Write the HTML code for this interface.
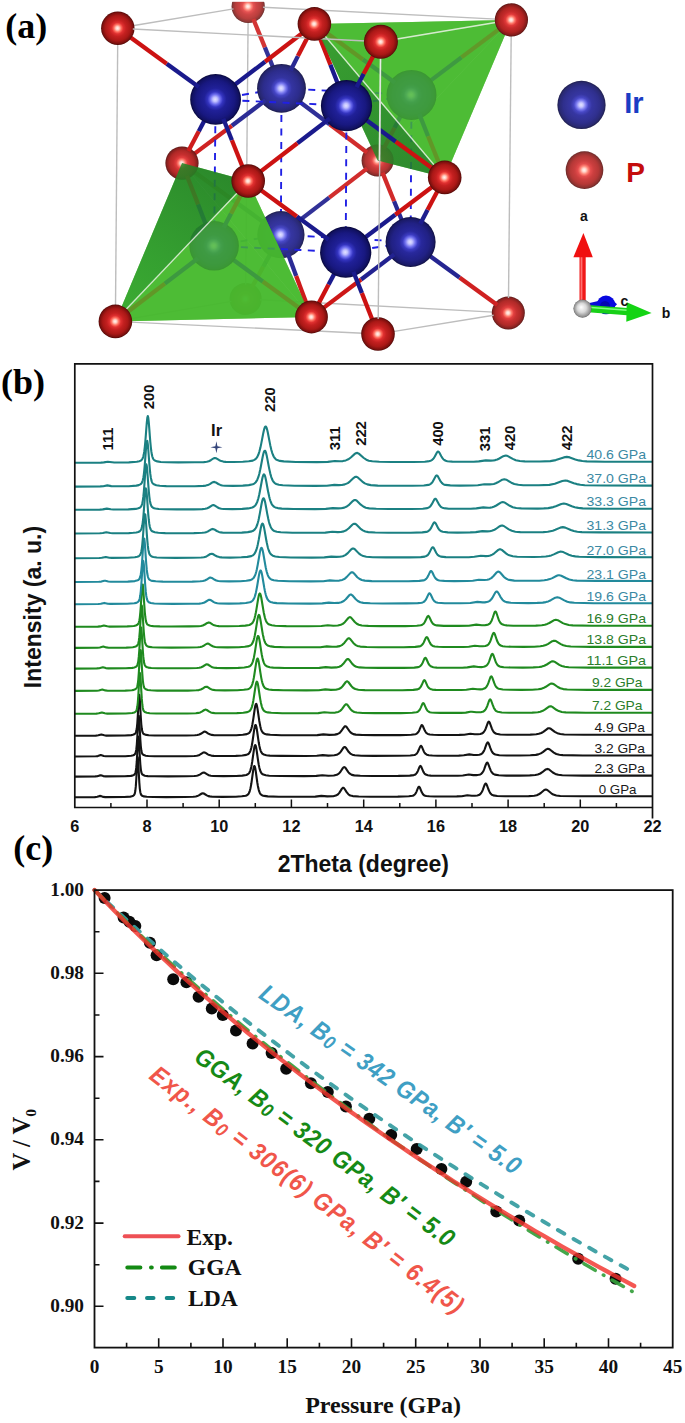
<!DOCTYPE html>
<html><head><meta charset="utf-8"><title>Figure</title>
<style>
html,body{margin:0;padding:0;background:#fff;}
body{width:685px;height:1423px;overflow:hidden;font-family:"Liberation Sans",sans-serif;}
svg{display:block;}
text{font-family:"Liberation Sans",sans-serif;}
.ser{font-family:"Liberation Serif",serif;font-weight:bold;}
.sb{font-family:"Liberation Sans",sans-serif;font-weight:bold;}
</style></head><body>
<svg width="685" height="1423" viewBox="0 0 685 1423">
<rect x="0" y="0" width="685" height="1423" fill="#ffffff"/>
<g id="pa">
<defs>
<radialGradient id="gIr" cx="0.5" cy="0.5" r="0.5" fx="0.49" fy="0.5">
<stop offset="0" stop-color="#e2e2ff"/><stop offset="0.09" stop-color="#c0c0ff"/><stop offset="0.20" stop-color="#6c6cee"/>
<stop offset="0.30" stop-color="#3434c0"/><stop offset="0.44" stop-color="#202098"/><stop offset="0.75" stop-color="#181880"/><stop offset="0.92" stop-color="#111162"/><stop offset="1" stop-color="#08083a"/>
</radialGradient>
<radialGradient id="gP" cx="0.5" cy="0.5" r="0.5" fx="0.49" fy="0.5">
<stop offset="0" stop-color="#fff6f0"/><stop offset="0.10" stop-color="#ffd0c4"/><stop offset="0.22" stop-color="#ff7060"/>
<stop offset="0.34" stop-color="#e03030"/><stop offset="0.5" stop-color="#c42020"/><stop offset="0.75" stop-color="#aa1816"/><stop offset="0.92" stop-color="#7c100e"/><stop offset="1" stop-color="#500806"/>
</radialGradient>
<linearGradient id="gDark1" gradientUnits="userSpaceOnUse" x1="330" y1="40" x2="440" y2="175">
<stop offset="0" stop-color="#2f962a"/><stop offset="1" stop-color="#237f26"/></linearGradient>
<linearGradient id="gDark2" gradientUnits="userSpaceOnUse" x1="215" y1="170" x2="120" y2="320">
<stop offset="0" stop-color="#218024"/><stop offset="0.6" stop-color="#2c9a2a"/><stop offset="1" stop-color="#35a82c"/></linearGradient>
<radialGradient id="gW" cx="0.5" cy="0.5" r="0.5" fx="0.42" fy="0.42">
<stop offset="0" stop-color="#ffffff"/><stop offset="0.5" stop-color="#d8d8d8"/><stop offset="0.9" stop-color="#909090"/><stop offset="1" stop-color="#606060"/>
</radialGradient>
</defs>
<text class="ser" x="5.3" y="38.3" font-size="36" fill="#000">(a)</text>
<circle cx="245.6" cy="298.9" r="16.0" fill="url(#gP)"/><circle cx="245.6" cy="298.9" r="16.0" fill="#fff" opacity="0.19"/>
<line x1="245.7" y1="284.5" x2="248.1" y2="21.3" stroke="#bdbdbd" stroke-width="1.4"/>
<circle cx="248.2" cy="6.4" r="16.6" fill="url(#gP)"/><circle cx="248.2" cy="6.4" r="16.6" fill="#fff" opacity="0.17"/>
<line x1="263.2" y1="266.8" x2="251.9" y2="287.4" stroke="#d43939" stroke-width="4.3"/>
<line x1="264.9" y1="47.4" x2="253.3" y2="19.0" stroke="#d33535" stroke-width="4.3"/>
<line x1="260.0" y1="299.7" x2="493.5" y2="312.1" stroke="#bdbdbd" stroke-width="1.4"/>
<polygon points="511.4,19.9 444.7,177.4 377.6,160.4" fill="#46b92d" fill-opacity="0.80"/>
<polygon points="511.4,19.9 314.4,23.9 377.6,160.4" fill="#46b92d" fill-opacity="0.80"/>
<circle cx="377.6" cy="160.4" r="16.0" fill="url(#gP)"/><circle cx="377.6" cy="160.4" r="16.0" fill="#fff" opacity="0.12"/>
<line x1="271.6" y1="251.7" x2="263.2" y2="266.8" stroke="#353599" stroke-width="4.3"/>
<line x1="263.1" y1="7.2" x2="496.5" y2="19.1" stroke="#bdbdbd" stroke-width="1.4"/>
<line x1="329.2" y1="197.6" x2="367.2" y2="168.4" stroke="#d12d2d" stroke-width="4.3"/>
<line x1="329.6" y1="124.3" x2="367.1" y2="152.5" stroke="#d12c2c" stroke-width="4.3"/>
<line x1="274.0" y1="69.8" x2="264.9" y2="47.4" stroke="#323298" stroke-width="4.3"/>
<line x1="296.2" y1="222.9" x2="329.2" y2="197.6" stroke="#313197" stroke-width="4.3"/>
<line x1="394.1" y1="201.2" x2="382.5" y2="172.6" stroke="#d12a2a" stroke-width="4.3"/>
<line x1="281.5" y1="88.3" x2="280.9" y2="234.7" stroke="#2020e4" stroke-width="1.9" stroke-dasharray="7 6.4"/>
<line x1="214.1" y1="245.8" x2="280.9" y2="234.7" stroke="#2020e4" stroke-width="1.9" stroke-dasharray="7 6.4"/>
<line x1="280.9" y1="234.7" x2="410.6" y2="242.0" stroke="#2020e4" stroke-width="1.9" stroke-dasharray="7 6.4"/>
<line x1="394.6" y1="127.7" x2="383.6" y2="148.7" stroke="#d12929" stroke-width="4.3"/>
<circle cx="280.9" cy="234.7" r="23.6" fill="url(#gIr)"/><circle cx="280.9" cy="234.7" r="23.6" fill="#fff" opacity="0.10"/>
<line x1="297.5" y1="100.3" x2="329.6" y2="124.3" stroke="#303097" stroke-width="4.3"/>
<line x1="215.6" y1="99.4" x2="281.5" y2="88.3" stroke="#2020e4" stroke-width="1.9" stroke-dasharray="7 6.4"/>
<line x1="281.5" y1="88.3" x2="411.5" y2="94.9" stroke="#2020e4" stroke-width="1.9" stroke-dasharray="7 6.4"/>
<line x1="265.2" y1="223.4" x2="231.4" y2="198.9" stroke="#2e2e96" stroke-width="4.3"/>
<circle cx="281.5" cy="88.3" r="24.4" fill="url(#gIr)"/><circle cx="281.5" cy="88.3" r="24.4" fill="#fff" opacity="0.09"/>
<line x1="265.5" y1="100.3" x2="231.8" y2="125.7" stroke="#2c2c95" stroke-width="4.3"/>
<line x1="130.3" y1="318.8" x2="231.4" y2="301.4" stroke="#bdbdbd" stroke-width="1.4"/>
<line x1="287.6" y1="252.8" x2="296.2" y2="275.9" stroke="#2b2b95" stroke-width="4.3"/>
<circle cx="508.3" cy="312.9" r="16.5" fill="url(#gP)"/><circle cx="508.3" cy="312.9" r="16.5" fill="#fff" opacity="0.08"/>
<line x1="231.4" y1="198.9" x2="193.0" y2="171.1" stroke="#cf2323" stroke-width="4.3"/>
<line x1="231.8" y1="125.7" x2="192.9" y2="154.9" stroke="#cf2222" stroke-width="4.3"/>
<line x1="508.5" y1="298.1" x2="511.2" y2="34.8" stroke="#bdbdbd" stroke-width="1.4"/>
<polygon points="311.5,317.0 182.0,163.1 248.2,181.0" fill="#46b92d" fill-opacity="0.80"/>
<polygon points="115.4,321.4 311.5,317.0 182.0,163.1" fill="#46b92d" fill-opacity="0.80"/>
<line x1="459.5" y1="277.4" x2="497.3" y2="305.0" stroke="#cf2121" stroke-width="4.3"/>
<line x1="290.6" y1="70.5" x2="297.9" y2="56.1" stroke="#292993" stroke-width="4.3"/>
<circle cx="182.0" cy="163.1" r="16.6" fill="url(#gP)"/><circle cx="182.0" cy="163.1" r="16.6" fill="#fff" opacity="0.07"/>
<line x1="402.9" y1="223.0" x2="394.1" y2="201.2" stroke="#282893" stroke-width="4.3"/>
<line x1="132.6" y1="25.7" x2="233.5" y2="8.9" stroke="#bdbdbd" stroke-width="1.4"/>
<line x1="402.1" y1="113.1" x2="394.6" y2="127.7" stroke="#262692" stroke-width="4.3"/>
<line x1="427.2" y1="254.0" x2="459.5" y2="277.4" stroke="#252591" stroke-width="4.3"/>
<line x1="461.4" y1="57.4" x2="500.5" y2="28.1" stroke="#ce1d1d" stroke-width="4.3"/>
<line x1="198.1" y1="204.4" x2="186.9" y2="175.8" stroke="#ce1c1c" stroke-width="4.3"/>
<line x1="411.5" y1="94.9" x2="410.6" y2="242.0" stroke="#2020e4" stroke-width="1.9" stroke-dasharray="7 6.4"/>
<line x1="345.7" y1="252.2" x2="410.6" y2="242.0" stroke="#2020e4" stroke-width="1.9" stroke-dasharray="7 6.4"/>
<line x1="198.8" y1="131.2" x2="188.4" y2="151.1" stroke="#ce1c1c" stroke-width="4.3"/>
<circle cx="410.6" cy="242.0" r="25.0" fill="url(#gIr)"/><circle cx="410.6" cy="242.0" r="25.0" fill="#fff" opacity="0.04"/>
<line x1="296.2" y1="275.9" x2="306.8" y2="304.4" stroke="#cd1b1b" stroke-width="4.3"/>
<line x1="427.9" y1="82.6" x2="461.4" y2="57.4" stroke="#222290" stroke-width="4.3"/>
<line x1="394.3" y1="254.4" x2="361.1" y2="279.5" stroke="#222290" stroke-width="4.3"/>
<line x1="346.5" y1="105.7" x2="411.5" y2="94.9" stroke="#2020e4" stroke-width="1.9" stroke-dasharray="7 6.4"/>
<circle cx="411.5" cy="94.9" r="25.0" fill="url(#gIr)"/><circle cx="411.5" cy="94.9" r="25.0" fill="#fff" opacity="0.03"/>
<line x1="361.1" y1="279.5" x2="322.2" y2="308.9" stroke="#cd1717" stroke-width="4.3"/>
<line x1="395.0" y1="82.8" x2="362.9" y2="59.4" stroke="#1f1f8e" stroke-width="4.3"/>
<line x1="297.9" y1="56.1" x2="308.1" y2="36.2" stroke="#cd1616" stroke-width="4.3"/>
<line x1="420.2" y1="223.9" x2="427.6" y2="209.7" stroke="#1e1e8e" stroke-width="4.3"/>
<line x1="419.2" y1="113.9" x2="428.1" y2="136.2" stroke="#1c1c8d" stroke-width="4.3"/>
<line x1="262.8" y1="281.4" x2="300.6" y2="309.1" stroke="#cc1414" stroke-width="4.3"/>
<line x1="362.9" y1="59.4" x2="325.5" y2="32.0" stroke="#cc1313" stroke-width="4.3"/>
<line x1="206.7" y1="226.8" x2="198.1" y2="204.4" stroke="#1b1b8c" stroke-width="4.3"/>
<line x1="205.9" y1="117.8" x2="198.8" y2="131.2" stroke="#1a1a8c" stroke-width="4.3"/>
<line x1="328.6" y1="284.6" x2="317.8" y2="305.1" stroke="#cc1212" stroke-width="4.3"/>
<line x1="230.5" y1="257.8" x2="262.8" y2="281.4" stroke="#1a1a8c" stroke-width="4.3"/>
<line x1="265.0" y1="61.7" x2="303.5" y2="32.3" stroke="#cc1212" stroke-width="4.3"/>
<line x1="215.6" y1="99.4" x2="214.1" y2="245.8" stroke="#2020e4" stroke-width="1.9" stroke-dasharray="7 6.4"/>
<line x1="214.1" y1="245.8" x2="345.7" y2="252.2" stroke="#2020e4" stroke-width="1.9" stroke-dasharray="7 6.4"/>
<circle cx="214.1" cy="245.8" r="24.8" fill="url(#gIr)"/>
<line x1="232.1" y1="86.8" x2="265.0" y2="61.7" stroke="#1a1a8c" stroke-width="4.3"/>
<line x1="198.0" y1="258.2" x2="164.8" y2="283.6" stroke="#1a1a8c" stroke-width="4.3"/>
<line x1="330.4" y1="64.8" x2="319.4" y2="36.7" stroke="#cc1212" stroke-width="4.3"/>
<line x1="215.6" y1="99.4" x2="346.5" y2="105.7" stroke="#2020e4" stroke-width="1.9" stroke-dasharray="7 6.4"/>
<circle cx="215.6" cy="99.4" r="25.4" fill="url(#gIr)"/>
<line x1="427.6" y1="209.7" x2="438.3" y2="189.6" stroke="#cc1212" stroke-width="4.3"/>
<line x1="428.1" y1="136.2" x2="439.6" y2="164.6" stroke="#cc1212" stroke-width="4.3"/>
<line x1="164.8" y1="283.6" x2="126.3" y2="313.0" stroke="#cc1212" stroke-width="4.3"/>
<line x1="392.9" y1="331.6" x2="493.6" y2="315.3" stroke="#bdbdbd" stroke-width="1.4"/>
<line x1="198.8" y1="87.1" x2="166.7" y2="63.8" stroke="#1a1a8c" stroke-width="4.3"/>
<line x1="223.6" y1="227.8" x2="231.1" y2="213.4" stroke="#1a1a8c" stroke-width="4.3"/>
<line x1="115.5" y1="306.3" x2="117.7" y2="43.2" stroke="#bdbdbd" stroke-width="1.4"/>
<line x1="223.3" y1="118.7" x2="231.9" y2="140.2" stroke="#1a1a8c" stroke-width="4.3"/>
<line x1="335.9" y1="270.8" x2="328.6" y2="284.6" stroke="#1a1a8c" stroke-width="4.3"/>
<line x1="166.7" y1="63.8" x2="128.9" y2="36.3" stroke="#cc1212" stroke-width="4.3"/>
<line x1="396.0" y1="39.3" x2="496.7" y2="22.4" stroke="#bdbdbd" stroke-width="1.4"/>
<polygon points="314.4,23.9 444.7,177.4 377.6,160.4" fill="url(#gDark1)" fill-opacity="0.86"/>
<polygon points="511.4,19.9 314.4,23.9 444.7,177.4" fill="#46b92d" fill-opacity="0.80"/>
<line x1="395.2" y1="214.8" x2="433.7" y2="185.7" stroke="#cc1212" stroke-width="4.3"/>
<line x1="325.0" y1="36.0" x2="435.0" y2="166.0" stroke="#f2f8ee" stroke-opacity="0.80" stroke-width="1.3"/>
<line x1="395.6" y1="141.6" x2="433.6" y2="169.3" stroke="#cc1212" stroke-width="4.3"/>
<circle cx="117.8" cy="28.2" r="16.7" fill="url(#gP)"/>
<line x1="397.0" y1="39.0" x2="495.5" y2="22.5" stroke="#f2f8ee" stroke-opacity="0.80" stroke-width="1.5"/>
<line x1="338.8" y1="86.2" x2="330.4" y2="64.8" stroke="#1a1a8c" stroke-width="4.3"/>
<line x1="362.4" y1="239.5" x2="395.2" y2="214.8" stroke="#1a1a8c" stroke-width="4.3"/>
<line x1="346.5" y1="105.7" x2="345.7" y2="252.2" stroke="#2020e4" stroke-width="1.9" stroke-dasharray="7 6.4"/>
<circle cx="345.7" cy="252.2" r="25.6" fill="url(#gIr)"/>
<line x1="363.5" y1="118.1" x2="395.6" y2="141.6" stroke="#1a1a8c" stroke-width="4.3"/>
<line x1="328.7" y1="239.8" x2="296.9" y2="216.6" stroke="#1a1a8c" stroke-width="4.3"/>
<circle cx="346.5" cy="105.7" r="25.6" fill="url(#gIr)"/>
<line x1="231.1" y1="213.4" x2="241.8" y2="193.2" stroke="#cc1212" stroke-width="4.3"/>
<line x1="231.9" y1="140.2" x2="243.1" y2="168.2" stroke="#cc1212" stroke-width="4.3"/>
<line x1="329.8" y1="118.5" x2="297.4" y2="143.3" stroke="#1a1a8c" stroke-width="4.3"/>
<line x1="130.5" y1="322.1" x2="362.9" y2="333.3" stroke="#bdbdbd" stroke-width="1.4"/>
<line x1="353.4" y1="271.7" x2="361.9" y2="293.1" stroke="#1a1a8c" stroke-width="4.3"/>
<line x1="296.9" y1="216.6" x2="259.3" y2="189.1" stroke="#cc1212" stroke-width="4.3"/>
<circle cx="511.4" cy="19.9" r="16.6" fill="url(#gP)"/><circle cx="511.4" cy="19.9" r="16.6" fill="#fff" opacity="0.05"/>
<line x1="297.4" y1="143.3" x2="259.1" y2="172.6" stroke="#cc1212" stroke-width="4.3"/>
<line x1="356.5" y1="87.2" x2="363.7" y2="73.8" stroke="#1a1a8c" stroke-width="4.3"/>
<line x1="132.8" y1="29.0" x2="365.6" y2="41.0" stroke="#bdbdbd" stroke-width="1.4"/>
<polygon points="115.4,321.4 182.0,163.1 248.2,181.0" fill="url(#gDark2)" fill-opacity="0.86"/>
<polygon points="115.4,321.4 311.5,317.0 248.2,181.0" fill="#46b92d" fill-opacity="0.80"/>
<line x1="125.5" y1="310.0" x2="238.5" y2="191.5" stroke="#f2f8ee" stroke-opacity="0.80" stroke-width="1.3"/>
<line x1="361.9" y1="293.1" x2="372.9" y2="321.2" stroke="#cc1212" stroke-width="4.3"/>
<circle cx="311.5" cy="317.0" r="16.4" fill="url(#gP)"/>
<line x1="363.7" y1="73.8" x2="374.3" y2="54.1" stroke="#cc1212" stroke-width="4.3"/>
<circle cx="378.0" cy="334.0" r="16.8" fill="url(#gP)"/>
<circle cx="314.4" cy="23.9" r="16.8" fill="url(#gP)"/>
<line x1="378.2" y1="318.9" x2="380.7" y2="57.1" stroke="#bdbdbd" stroke-width="1.4"/>
<line x1="380.4" y1="58.5" x2="379.3" y2="160.0" stroke="#f2f8ee" stroke-opacity="0.80" stroke-width="1.5"/>
<circle cx="380.9" cy="41.8" r="17.0" fill="url(#gP)"/>
<circle cx="115.4" cy="321.4" r="16.8" fill="url(#gP)"/>
<circle cx="444.7" cy="177.4" r="16.8" fill="url(#gP)"/>
<circle cx="248.2" cy="181.0" r="16.8" fill="url(#gP)"/>
<rect x="200" y="0" width="100" height="1.8" fill="#fff"/>
<circle cx="581.5" cy="104.9" r="24.1" fill="url(#gIr)"/><circle cx="581.5" cy="104.9" r="24.1" fill="#fff" opacity="0.10"/>
<circle cx="584.5" cy="170.1" r="18.8" fill="url(#gP)"/><circle cx="584.5" cy="170.1" r="18.8" fill="#fff" opacity="0.14"/>
<text class="sb" x="624.3" y="112.9" font-size="29" fill="#1a3cc4">Ir</text>
<text class="sb" x="626.3" y="181.7" font-size="28" fill="#c40c0c">P</text>
<path d="M590 305.6 L600 303.5" stroke="#0a0ad8" stroke-width="5.5" fill="none"/>
<ellipse cx="606" cy="304.8" rx="9.3" ry="9.4" fill="#0808e0"/><polygon points="612,299.5 617,304.3 612,309.5" fill="#0808e0"/>
<ellipse cx="605" cy="306.5" rx="5" ry="5.5" fill="#0404b0"/>
<rect x="579.5" y="256" width="6.2" height="46" fill="#f01818"/>
<rect x="580.6" y="256" width="1.8" height="46" fill="#ff7070"/>
<polygon points="573.4,257.2 592.8,257.2 583.4,233" fill="#f01010"/>
<polygon points="588,305 627,308 627,315.2 588,312.2" fill="#18d018"/>
<polygon points="588,306.6 627,309.6 627,311 588,308" fill="#80ff80"/>
<polygon points="626.7,302.3 651.6,313 626.3,321.8" fill="#14d414"/>
<circle cx="582.5" cy="308.6" r="9.1" fill="url(#gW)"/>
<text class="sb" x="583.8" y="221.3" text-anchor="middle" font-size="14" fill="#111">a</text>
<text class="sb" x="624.3" y="306.2" text-anchor="middle" font-size="14" fill="#111">c</text>
<text class="sb" x="666" y="318.4" text-anchor="middle" font-size="14" fill="#111">b</text>
</g>
<g id="pb">
<text class="ser" x="1" y="393.8" font-size="36" fill="#000">(b)</text>
<text class="sb" transform="translate(41,607) rotate(-90)" text-anchor="middle" font-size="23" fill="#111">Intensity (a. u.)</text>
<text class="sb" x="363.3" y="872.3" text-anchor="middle" font-size="23" fill="#111">2Theta (degree)</text>
<path d="M74.8 797.3 L94.8 797.1 L97.3 796.8 L99.8 795.9 L100.8 796.1 L103.3 796.9 L105.3 797.1 L124.3 797.0 L130.3 796.6 L131.8 796.3 L133.3 795.7 L133.8 795.3 L134.3 794.7 L134.8 793.5 L135.3 791.0 L135.8 786.4 L136.3 779.0 L136.8 769.2 L137.3 760.1 L137.8 757.4 L138.3 763.3 L138.8 773.3 L139.3 782.3 L139.8 788.6 L140.3 792.2 L140.8 794.0 L141.3 795.0 L141.8 795.5 L142.8 796.1 L143.8 796.4 L146.8 796.8 L153.3 797.0 L166.3 797.1 L184.8 797.0 L193.3 796.8 L195.8 796.5 L197.3 796.1 L198.8 795.4 L201.8 793.5 L202.8 793.2 L203.8 793.5 L206.8 795.4 L208.3 796.1 L209.8 796.4 L212.3 796.7 L222.3 796.9 L235.8 796.7 L241.8 796.3 L245.8 795.7 L247.3 795.0 L248.3 794.1 L248.8 793.3 L249.3 792.3 L249.8 790.8 L250.3 789.0 L250.8 786.6 L251.3 783.8 L251.8 780.4 L252.8 773.1 L253.3 769.7 L253.8 767.2 L254.3 766.0 L254.8 766.5 L255.3 768.5 L255.8 771.6 L256.8 779.0 L257.3 782.5 L257.8 785.5 L258.3 788.1 L258.8 790.1 L259.3 791.7 L259.8 792.9 L260.3 793.8 L260.8 794.4 L262.3 795.4 L264.3 795.9 L267.8 796.4 L278.8 796.7 L302.8 796.8 L315.3 796.6 L321.3 795.9 L327.3 796.4 L333.3 796.2 L335.8 795.6 L337.8 794.5 L339.3 792.9 L341.8 788.9 L342.3 788.3 L342.8 787.9 L343.3 787.8 L343.8 788.0 L344.3 788.5 L346.8 792.4 L348.3 794.2 L349.3 795.0 L350.3 795.5 L352.8 796.1 L358.8 796.5 L370.8 796.7 L397.8 796.6 L408.8 796.3 L412.8 795.8 L413.8 795.3 L414.8 794.5 L415.8 793.1 L416.3 792.1 L417.8 788.4 L418.3 787.3 L418.8 786.7 L419.3 786.8 L419.8 787.5 L421.8 792.3 L422.8 794.0 L423.3 794.6 L424.3 795.4 L426.3 796.0 L429.3 796.3 L434.8 796.5 L456.8 796.4 L461.8 796.2 L467.3 795.2 L471.8 795.8 L474.8 795.8 L477.3 795.5 L478.8 795.1 L479.8 794.5 L480.8 793.5 L481.8 792.0 L482.3 791.0 L482.8 789.8 L484.3 785.7 L484.8 784.5 L485.3 783.7 L485.8 783.5 L486.3 784.0 L486.8 784.9 L488.3 789.0 L489.3 791.4 L489.8 792.4 L490.8 793.8 L491.8 794.7 L493.3 795.4 L497.3 796.0 L505.3 796.3 L518.8 796.3 L528.8 796.1 L534.3 795.7 L536.8 795.2 L538.8 794.3 L540.8 793.0 L544.3 790.0 L545.8 789.5 L547.3 790.0 L551.3 793.3 L553.3 794.6 L556.3 795.5 L560.3 796.0 L580.8 796.3 L652.3 796.3" fill="none" stroke="#141414" stroke-width="2.1" stroke-linejoin="round"/>
<path d="M74.8 776.6 L95.3 776.4 L97.3 776.2 L99.8 775.4 L100.8 775.2 L103.3 776.1 L105.8 776.4 L124.8 776.3 L130.8 775.9 L132.3 775.6 L133.8 775.0 L134.8 774.1 L135.3 773.1 L135.8 771.1 L136.3 767.4 L136.8 761.2 L137.3 752.4 L137.8 742.8 L138.3 736.5 L138.8 738.2 L139.3 746.5 L139.8 756.2 L140.3 764.0 L140.8 769.1 L141.3 772.1 L141.8 773.6 L142.3 774.4 L142.8 774.8 L144.8 775.7 L147.8 776.1 L154.3 776.3 L167.8 776.4 L186.3 776.3 L194.3 776.0 L196.8 775.7 L198.3 775.3 L199.8 774.6 L202.8 772.7 L203.8 772.5 L204.8 772.8 L207.3 774.4 L208.8 775.2 L210.8 775.7 L213.3 776.0 L223.3 776.1 L236.3 776.0 L242.3 775.6 L246.3 775.0 L247.8 774.3 L248.8 773.5 L249.3 772.8 L249.8 771.8 L250.3 770.6 L250.8 768.9 L251.3 766.8 L251.8 764.2 L252.3 761.2 L253.8 750.6 L254.3 747.6 L254.8 745.6 L255.3 745.0 L255.8 746.0 L256.3 748.3 L256.8 751.5 L257.8 758.7 L258.3 762.0 L258.8 765.0 L259.3 767.4 L259.8 769.4 L260.3 771.0 L260.8 772.1 L261.8 773.6 L263.3 774.6 L265.8 775.3 L269.3 775.7 L280.3 776.0 L303.8 776.1 L316.3 775.9 L322.3 775.2 L328.3 775.7 L333.8 775.5 L336.8 774.8 L338.8 773.6 L340.3 772.0 L342.8 768.2 L343.3 767.6 L343.8 767.2 L344.3 767.1 L344.8 767.3 L345.3 767.7 L348.3 772.1 L349.8 773.7 L351.8 774.9 L354.3 775.4 L360.3 775.8 L372.3 776.0 L398.3 775.9 L409.8 775.6 L413.8 775.1 L414.8 774.8 L415.8 774.1 L416.8 772.9 L417.3 772.1 L417.8 771.1 L419.3 767.4 L419.8 766.4 L420.3 765.9 L420.8 766.1 L421.3 766.9 L423.3 771.6 L424.3 773.3 L424.8 773.9 L425.8 774.6 L427.8 775.3 L430.8 775.6 L436.3 775.8 L457.8 775.7 L462.8 775.5 L468.8 774.5 L473.3 775.1 L476.3 775.1 L478.8 774.8 L480.3 774.4 L481.3 773.8 L482.3 772.8 L483.3 771.2 L483.8 770.1 L484.3 768.9 L485.8 764.7 L486.3 763.6 L486.8 762.8 L487.3 762.6 L487.8 763.1 L488.3 764.1 L489.8 768.2 L490.8 770.6 L491.3 771.6 L492.3 773.0 L493.3 773.9 L494.8 774.6 L498.8 775.3 L506.3 775.6 L519.3 775.6 L529.8 775.4 L535.3 775.0 L537.8 774.5 L540.3 773.5 L542.3 772.2 L545.8 769.4 L547.3 768.9 L548.8 769.3 L552.8 772.5 L555.3 773.9 L558.3 774.8 L562.3 775.3 L582.8 775.6 L652.3 775.6" fill="none" stroke="#141414" stroke-width="2.1" stroke-linejoin="round"/>
<path d="M74.8 756.5 L95.8 756.3 L97.8 756.1 L100.8 755.1 L103.8 756.0 L105.8 756.3 L125.3 756.2 L131.3 755.8 L133.3 755.3 L134.3 754.8 L134.8 754.3 L135.3 753.5 L135.8 752.1 L136.3 749.4 L136.8 744.5 L137.3 737.1 L137.8 727.7 L138.3 719.0 L138.8 715.9 L139.3 720.9 L140.3 739.3 L140.8 746.0 L141.3 750.3 L141.8 752.6 L142.3 753.8 L142.8 754.4 L143.8 755.1 L145.8 755.7 L148.3 756.0 L154.8 756.2 L167.8 756.3 L185.8 756.2 L194.3 756.0 L196.8 755.7 L198.8 755.2 L200.3 754.4 L202.8 752.8 L203.8 752.4 L204.3 752.4 L205.3 752.7 L207.8 754.4 L209.3 755.1 L211.3 755.6 L213.8 755.9 L223.3 756.0 L235.8 755.9 L242.3 755.5 L246.3 754.9 L247.8 754.3 L248.8 753.6 L249.8 752.2 L250.3 751.1 L250.8 749.7 L251.3 747.8 L251.8 745.5 L252.3 742.7 L252.8 739.5 L253.8 732.4 L254.3 729.1 L254.8 726.4 L255.3 725.0 L255.8 725.0 L256.3 726.5 L256.8 729.1 L257.3 732.5 L258.3 739.6 L258.8 742.8 L259.3 745.5 L259.8 747.9 L260.3 749.7 L260.8 751.1 L261.3 752.2 L262.3 753.6 L263.8 754.5 L266.3 755.2 L269.8 755.6 L281.3 755.9 L305.3 756.0 L316.8 755.8 L322.8 755.1 L328.3 755.6 L334.3 755.3 L336.8 754.8 L338.8 753.7 L339.8 752.8 L340.8 751.6 L343.3 747.9 L344.3 747.0 L344.8 747.0 L345.3 747.2 L345.8 747.7 L348.8 752.1 L350.3 753.6 L352.3 754.7 L354.8 755.3 L361.3 755.7 L373.3 755.9 L399.3 755.8 L410.3 755.5 L414.3 755.0 L415.3 754.7 L416.3 754.0 L417.3 752.8 L417.8 752.0 L418.8 749.8 L419.8 747.4 L420.3 746.4 L420.8 745.8 L421.3 746.0 L421.8 746.7 L423.8 751.4 L424.3 752.3 L425.3 753.7 L426.8 754.7 L428.8 755.2 L432.3 755.5 L437.8 755.7 L458.8 755.6 L463.8 755.3 L469.3 754.4 L473.8 755.0 L476.8 755.0 L479.3 754.7 L480.8 754.3 L481.8 753.7 L482.8 752.7 L483.8 751.2 L484.3 750.1 L484.8 748.9 L486.3 744.7 L486.8 743.5 L487.3 742.7 L487.8 742.4 L488.3 742.8 L488.8 743.7 L490.3 747.9 L491.3 750.4 L491.8 751.4 L492.8 752.9 L493.8 753.8 L495.3 754.5 L499.3 755.2 L506.8 755.5 L519.8 755.5 L530.3 755.3 L535.8 754.9 L538.3 754.4 L540.8 753.4 L542.8 752.1 L546.3 749.4 L547.8 748.8 L548.8 749.0 L549.8 749.5 L553.8 752.6 L556.3 754.0 L559.3 754.8 L562.8 755.1 L582.8 755.5 L652.3 755.5" fill="none" stroke="#141414" stroke-width="2.1" stroke-linejoin="round"/>
<path d="M74.8 735.8 L95.8 735.6 L98.3 735.3 L101.3 734.5 L104.3 735.3 L106.3 735.6 L124.8 735.5 L131.3 735.1 L132.8 734.8 L134.3 734.3 L135.3 733.5 L135.8 732.7 L136.3 731.1 L136.8 728.3 L137.3 723.3 L137.8 715.9 L138.3 706.7 L138.8 698.2 L139.3 694.9 L139.8 699.3 L140.8 717.3 L141.3 724.3 L141.8 728.8 L142.3 731.4 L142.8 732.8 L143.3 733.6 L144.3 734.3 L146.3 734.9 L148.8 735.2 L154.8 735.5 L167.3 735.5 L186.3 735.5 L194.8 735.3 L197.3 735.0 L199.3 734.5 L200.8 733.8 L203.8 731.8 L204.8 731.6 L205.8 731.9 L208.3 733.6 L209.8 734.3 L211.8 734.9 L214.3 735.2 L223.3 735.3 L236.3 735.2 L242.8 734.8 L246.8 734.1 L248.3 733.5 L249.3 732.8 L250.3 731.4 L250.8 730.3 L251.3 728.8 L251.8 727.0 L252.3 724.7 L252.8 721.9 L253.3 718.8 L254.8 708.5 L255.3 705.8 L255.8 704.2 L256.3 703.9 L256.8 705.2 L257.3 707.6 L257.8 710.7 L258.8 717.7 L259.3 721.0 L259.8 723.8 L260.3 726.3 L260.8 728.3 L261.3 729.8 L261.8 731.0 L262.8 732.6 L264.3 733.7 L266.8 734.4 L270.3 734.8 L281.3 735.2 L305.3 735.3 L317.3 735.1 L323.3 734.4 L329.3 734.9 L334.8 734.6 L337.3 734.1 L339.3 733.1 L340.3 732.2 L341.3 731.0 L343.3 728.1 L344.3 726.8 L344.8 726.4 L345.3 726.3 L345.8 726.4 L346.3 726.7 L347.3 728.0 L349.3 730.9 L350.3 732.1 L351.3 733.0 L353.3 734.1 L355.8 734.6 L362.3 735.0 L374.3 735.1 L400.3 735.1 L411.3 734.8 L415.3 734.3 L416.3 733.9 L417.3 733.2 L418.3 732.0 L418.8 731.2 L419.3 730.2 L420.8 726.6 L421.3 725.6 L421.8 725.1 L422.3 725.2 L422.8 726.0 L424.8 730.6 L425.3 731.5 L426.3 732.9 L427.8 734.0 L429.8 734.5 L433.3 734.8 L438.8 735.0 L459.3 734.9 L464.3 734.7 L470.3 733.7 L474.8 734.3 L477.8 734.3 L480.3 734.0 L481.8 733.6 L482.8 733.0 L483.8 732.0 L484.8 730.5 L485.3 729.5 L485.8 728.3 L487.8 722.8 L488.3 721.9 L488.8 721.6 L489.3 721.9 L489.8 722.8 L491.8 728.3 L492.3 729.5 L492.8 730.5 L493.8 732.1 L494.8 733.0 L496.3 733.8 L500.3 734.5 L507.3 734.7 L519.8 734.8 L530.3 734.6 L536.3 734.3 L538.8 733.8 L541.3 733.0 L543.3 731.8 L547.3 728.8 L548.3 728.3 L549.3 728.2 L550.8 728.8 L554.8 731.8 L557.3 733.2 L560.3 734.0 L564.3 734.5 L584.3 734.8 L652.3 734.8" fill="none" stroke="#141414" stroke-width="2.1" stroke-linejoin="round"/>
<path d="M74.8 713.8 L96.3 713.6 L98.8 713.3 L101.8 712.5 L104.8 713.3 L107.3 713.6 L125.8 713.5 L132.3 713.0 L134.3 712.5 L135.3 711.9 L135.8 711.5 L136.3 710.7 L136.8 709.3 L137.3 706.8 L137.8 702.5 L138.3 695.8 L138.8 687.2 L139.3 678.3 L139.8 672.8 L140.3 674.4 L140.8 681.8 L141.3 690.9 L141.8 698.9 L142.3 704.5 L142.8 708.0 L143.3 710.0 L143.8 711.1 L144.8 712.1 L146.8 712.8 L149.8 713.2 L156.3 713.5 L169.3 713.5 L187.3 713.5 L195.8 713.2 L198.3 712.9 L200.3 712.4 L201.8 711.6 L204.3 710.0 L205.3 709.6 L206.8 710.0 L209.3 711.6 L210.8 712.4 L212.8 712.9 L215.3 713.2 L224.3 713.3 L236.8 713.1 L243.3 712.8 L247.3 712.1 L248.8 711.5 L249.8 710.8 L250.8 709.4 L251.3 708.4 L251.8 707.1 L252.3 705.4 L252.8 703.2 L253.3 700.7 L253.8 697.7 L255.3 687.6 L255.8 684.7 L256.3 682.5 L256.8 681.6 L257.3 682.0 L257.8 683.8 L258.3 686.5 L259.8 696.5 L260.3 699.6 L260.8 702.3 L261.3 704.6 L261.8 706.5 L262.3 708.0 L262.8 709.1 L263.8 710.6 L265.3 711.7 L267.8 712.4 L271.3 712.8 L282.3 713.2 L305.3 713.3 L318.3 713.1 L324.3 712.3 L330.3 712.8 L335.3 712.6 L338.3 711.9 L340.3 710.8 L341.3 709.9 L342.3 708.7 L344.8 705.2 L345.8 704.3 L346.3 704.2 L346.8 704.4 L347.8 705.3 L350.3 708.8 L351.3 710.0 L352.3 710.9 L354.3 712.0 L356.8 712.5 L362.8 713.0 L374.8 713.1 L400.8 713.1 L412.3 712.8 L416.3 712.3 L417.3 712.0 L418.3 711.4 L419.3 710.3 L419.8 709.6 L420.8 707.6 L422.3 704.1 L422.8 703.3 L423.3 703.1 L423.8 703.4 L424.3 704.3 L426.3 708.9 L427.3 710.5 L427.8 711.0 L428.8 711.8 L429.8 712.2 L431.3 712.5 L434.8 712.8 L440.3 712.9 L460.8 712.9 L465.8 712.6 L470.3 711.8 L471.8 711.7 L476.3 712.3 L479.3 712.3 L481.3 712.1 L482.8 711.7 L483.8 711.2 L484.8 710.4 L485.8 709.1 L486.8 707.0 L487.3 705.8 L488.8 701.5 L489.3 700.3 L489.8 699.5 L490.3 699.4 L490.8 699.9 L491.3 701.0 L492.8 705.2 L493.8 707.7 L494.3 708.7 L495.3 710.2 L496.3 711.1 L497.8 711.8 L501.8 712.5 L509.3 712.8 L521.8 712.8 L532.3 712.6 L537.8 712.2 L540.3 711.7 L542.8 710.8 L544.8 709.7 L548.3 707.1 L549.3 706.5 L550.3 706.3 L551.3 706.4 L552.3 706.9 L556.3 709.8 L558.8 711.1 L561.8 712.0 L565.8 712.4 L585.8 712.8 L652.3 712.8" fill="none" stroke="#1f8a1f" stroke-width="2.1" stroke-linejoin="round"/>
<path d="M74.8 690.9 L96.8 690.7 L98.8 690.5 L102.3 689.6 L105.3 690.4 L107.8 690.7 L125.3 690.6 L131.8 690.2 L133.8 689.9 L135.3 689.3 L136.3 688.5 L136.8 687.7 L137.3 686.3 L137.8 683.8 L138.3 679.5 L138.8 673.1 L139.3 664.8 L139.8 656.0 L140.3 650.0 L140.8 650.4 L141.3 656.9 L141.8 665.8 L142.3 673.9 L142.8 680.1 L143.3 684.1 L143.8 686.5 L144.3 687.8 L144.8 688.5 L145.8 689.3 L147.8 690.0 L150.8 690.3 L157.3 690.6 L170.3 690.6 L187.8 690.6 L196.3 690.3 L198.8 690.1 L200.8 689.5 L202.3 688.8 L204.8 687.1 L206.3 686.7 L207.3 686.9 L210.3 688.9 L211.8 689.5 L213.3 689.9 L215.8 690.2 L224.8 690.4 L237.3 690.2 L243.8 689.8 L247.8 689.2 L249.3 688.6 L250.3 687.8 L251.3 686.5 L251.8 685.4 L252.3 684.1 L252.8 682.4 L253.3 680.4 L253.8 677.9 L254.3 675.0 L255.8 665.1 L256.3 662.1 L256.8 659.8 L257.3 658.6 L257.8 658.6 L258.3 660.0 L258.8 662.3 L259.3 665.4 L260.3 672.1 L260.8 675.2 L261.3 678.1 L261.8 680.5 L262.3 682.6 L262.8 684.2 L263.3 685.5 L263.8 686.5 L264.8 687.8 L266.3 688.8 L268.8 689.5 L272.3 689.9 L283.3 690.3 L306.3 690.4 L318.8 690.2 L325.3 689.4 L330.8 689.9 L335.8 689.7 L338.8 689.0 L340.8 688.0 L341.8 687.1 L342.8 686.0 L345.8 682.0 L346.8 681.3 L347.3 681.3 L348.3 682.0 L351.3 686.0 L352.3 687.1 L353.3 688.0 L355.3 689.0 L358.3 689.7 L364.8 690.1 L377.3 690.2 L402.3 690.2 L413.3 689.9 L417.3 689.4 L418.3 689.1 L419.3 688.5 L420.3 687.4 L420.8 686.7 L421.8 684.8 L423.3 681.3 L423.8 680.5 L424.3 680.1 L424.8 680.4 L425.3 681.1 L427.3 685.7 L427.8 686.6 L428.8 687.9 L430.3 689.0 L432.3 689.6 L435.8 689.9 L440.8 690.0 L461.3 690.0 L466.3 689.8 L472.8 688.7 L477.3 689.3 L480.3 689.4 L482.8 689.1 L484.3 688.6 L485.3 688.0 L486.3 687.0 L487.3 685.4 L487.8 684.4 L488.3 683.2 L490.3 677.5 L490.8 676.6 L491.3 676.3 L491.8 676.6 L492.3 677.6 L494.3 683.2 L494.8 684.4 L495.3 685.5 L496.3 687.1 L497.3 688.1 L498.8 688.8 L502.8 689.5 L509.8 689.8 L521.3 689.9 L532.3 689.7 L538.3 689.3 L540.8 688.9 L543.3 688.1 L545.8 686.8 L549.8 684.1 L550.8 683.6 L551.8 683.5 L552.8 683.7 L553.8 684.2 L557.8 687.0 L560.3 688.2 L563.3 689.1 L567.3 689.5 L587.3 689.9 L652.3 689.9" fill="none" stroke="#1f8a1f" stroke-width="2.1" stroke-linejoin="round"/>
<path d="M74.8 668.6 L96.8 668.4 L99.3 668.2 L102.8 667.3 L105.8 668.1 L108.3 668.4 L125.8 668.3 L132.3 667.9 L134.3 667.5 L135.8 666.9 L136.8 666.1 L137.3 665.2 L137.8 663.7 L138.3 661.1 L138.8 656.7 L139.3 650.3 L139.8 642.1 L140.3 633.5 L140.8 627.6 L141.3 627.5 L141.8 633.5 L142.3 642.1 L142.8 650.3 L143.3 656.7 L143.8 661.0 L144.3 663.7 L144.8 665.2 L145.3 666.0 L146.3 666.9 L148.3 667.6 L151.3 668.0 L157.8 668.3 L169.8 668.3 L188.3 668.2 L196.8 668.0 L199.3 667.8 L201.3 667.2 L202.8 666.5 L205.8 664.6 L206.8 664.3 L207.8 664.5 L210.8 666.4 L212.3 667.2 L214.3 667.7 L216.8 667.9 L226.3 668.1 L238.3 667.9 L244.3 667.5 L248.3 666.8 L249.8 666.2 L250.8 665.4 L251.8 664.0 L252.3 662.9 L252.8 661.6 L253.3 659.9 L253.8 657.9 L254.3 655.4 L254.8 652.6 L256.3 642.9 L256.8 639.9 L257.3 637.5 L257.8 636.1 L258.3 636.0 L258.8 637.0 L259.3 639.2 L259.8 642.0 L261.3 651.8 L261.8 654.7 L262.3 657.2 L262.8 659.4 L263.3 661.2 L263.8 662.6 L264.3 663.7 L264.8 664.6 L265.8 665.7 L267.3 666.6 L269.8 667.2 L273.3 667.6 L284.8 668.0 L307.3 668.0 L319.3 667.9 L325.8 667.1 L331.3 667.6 L336.3 667.4 L339.3 666.7 L341.3 665.7 L343.3 663.8 L346.3 659.9 L347.3 659.1 L347.8 659.0 L348.3 659.1 L349.3 659.9 L352.3 663.9 L354.3 665.7 L356.3 666.7 L359.3 667.4 L365.8 667.8 L378.8 667.9 L403.3 667.9 L414.3 667.6 L418.3 667.1 L419.3 666.7 L420.3 666.1 L421.3 665.0 L421.8 664.3 L422.8 662.4 L424.3 658.9 L424.8 658.1 L425.3 657.8 L425.8 658.0 L426.3 658.8 L428.3 663.2 L428.8 664.2 L429.8 665.5 L431.3 666.6 L433.3 667.2 L436.8 667.6 L441.8 667.7 L462.3 667.7 L467.3 667.4 L473.8 666.4 L478.3 667.0 L481.3 667.1 L483.8 666.8 L485.3 666.3 L486.3 665.7 L487.3 664.8 L488.3 663.2 L488.8 662.1 L489.3 660.9 L491.3 655.2 L491.8 654.2 L492.3 653.8 L492.8 654.1 L493.3 655.0 L493.8 656.3 L495.3 660.7 L495.8 662.0 L496.3 663.0 L497.3 664.7 L498.3 665.7 L499.8 666.5 L501.3 666.9 L503.8 667.2 L510.8 667.5 L522.8 667.6 L533.3 667.4 L539.3 667.0 L541.8 666.6 L544.3 665.8 L546.8 664.5 L550.8 661.9 L551.8 661.4 L552.8 661.3 L553.8 661.5 L554.8 661.9 L559.3 664.9 L561.8 666.0 L564.8 666.8 L568.8 667.2 L588.8 667.6 L652.3 667.6" fill="none" stroke="#1f8a1f" stroke-width="2.1" stroke-linejoin="round"/>
<path d="M74.8 647.9 L97.3 647.7 L99.8 647.5 L103.3 646.6 L106.3 647.4 L108.8 647.7 L126.3 647.6 L132.8 647.2 L134.8 646.8 L136.3 646.2 L137.3 645.4 L137.8 644.6 L138.3 643.3 L138.8 641.0 L139.3 637.2 L139.8 631.6 L140.3 624.1 L140.8 615.6 L141.3 608.4 L141.8 605.6 L142.3 608.8 L142.8 616.3 L143.3 624.7 L143.8 632.1 L144.3 637.6 L144.8 641.2 L145.3 643.4 L145.8 644.7 L146.3 645.4 L147.3 646.2 L149.3 646.9 L152.3 647.3 L158.8 647.5 L171.3 647.6 L189.3 647.5 L197.8 647.3 L200.3 647.0 L202.3 646.4 L203.8 645.7 L206.3 644.0 L207.8 643.6 L208.8 643.8 L211.8 645.8 L213.3 646.5 L215.3 647.0 L217.8 647.2 L227.3 647.4 L238.8 647.2 L244.8 646.8 L248.8 646.1 L250.3 645.5 L251.3 644.7 L251.8 644.1 L252.8 642.4 L253.3 641.2 L253.8 639.6 L254.3 637.7 L254.8 635.4 L255.3 632.8 L255.8 629.9 L257.3 620.4 L257.8 617.7 L258.3 615.8 L258.8 614.9 L259.3 615.2 L259.8 616.6 L260.3 619.0 L260.8 621.9 L262.3 631.4 L262.8 634.2 L263.3 636.6 L263.8 638.7 L264.3 640.4 L264.8 641.8 L265.3 642.9 L265.8 643.8 L266.8 644.9 L268.3 645.8 L270.8 646.4 L274.3 646.9 L285.3 647.3 L307.3 647.3 L320.3 647.2 L326.8 646.4 L332.3 646.8 L336.8 646.6 L339.8 646.1 L341.3 645.4 L342.3 644.8 L344.3 642.9 L347.3 639.1 L348.3 638.4 L348.8 638.3 L349.3 638.4 L350.3 639.1 L353.3 642.9 L355.3 644.8 L357.3 645.9 L360.3 646.6 L366.8 647.0 L378.8 647.2 L403.8 647.2 L415.3 646.9 L419.3 646.4 L420.8 645.9 L421.8 645.2 L422.8 644.0 L423.3 643.2 L423.8 642.3 L425.8 637.9 L426.3 637.3 L426.8 637.1 L427.3 637.4 L427.8 638.2 L429.8 642.6 L430.3 643.5 L431.3 644.8 L432.8 645.9 L434.8 646.5 L438.3 646.8 L443.3 647.0 L463.3 647.0 L468.8 646.7 L474.8 645.7 L479.8 646.3 L482.8 646.3 L485.3 646.0 L486.8 645.6 L487.8 644.9 L488.8 643.9 L489.8 642.3 L490.3 641.2 L490.8 639.9 L492.3 635.4 L492.8 634.1 L493.3 633.2 L493.8 632.9 L494.3 633.2 L494.8 634.2 L496.8 640.0 L497.3 641.3 L497.8 642.4 L498.8 644.0 L499.8 645.0 L501.3 645.8 L502.8 646.2 L505.3 646.5 L511.8 646.8 L523.3 646.9 L534.3 646.7 L540.3 646.3 L543.3 645.8 L545.8 645.0 L547.8 644.1 L552.3 641.2 L553.3 640.9 L554.3 640.7 L555.3 640.9 L556.3 641.3 L560.8 644.1 L563.3 645.2 L566.3 646.0 L570.8 646.5 L590.8 646.9 L652.3 646.9" fill="none" stroke="#1f8a1f" stroke-width="2.1" stroke-linejoin="round"/>
<path d="M74.8 626.8 L97.8 626.6 L100.3 626.4 L103.8 625.5 L107.3 626.3 L109.8 626.6 L127.3 626.4 L133.8 626.0 L135.8 625.5 L137.3 624.8 L137.8 624.4 L138.3 623.7 L138.8 622.6 L139.3 620.7 L139.8 617.6 L140.3 612.8 L140.8 606.3 L141.8 590.4 L142.3 584.9 L142.8 584.5 L143.3 589.5 L144.3 605.3 L144.8 612.1 L145.3 617.0 L145.8 620.3 L146.3 622.4 L146.8 623.6 L147.3 624.3 L148.3 625.0 L150.3 625.7 L153.3 626.1 L159.8 626.4 L171.3 626.5 L189.3 626.4 L198.3 626.2 L200.8 626.0 L202.8 625.5 L204.8 624.5 L207.3 622.9 L208.8 622.4 L209.8 622.7 L212.8 624.6 L214.3 625.3 L216.3 625.8 L218.8 626.1 L227.8 626.2 L239.3 626.0 L245.3 625.6 L249.3 625.0 L250.8 624.3 L252.3 623.1 L253.3 621.5 L253.8 620.4 L254.3 619.0 L254.8 617.3 L255.3 615.2 L255.8 612.8 L256.3 610.1 L257.8 600.9 L258.3 598.0 L258.8 595.6 L259.3 593.9 L259.8 593.4 L260.3 593.9 L260.8 595.5 L261.3 597.8 L261.8 600.7 L263.3 609.9 L263.8 612.7 L264.3 615.1 L264.8 617.2 L265.3 618.9 L265.8 620.3 L266.3 621.5 L266.8 622.4 L267.8 623.6 L269.3 624.6 L271.8 625.3 L275.3 625.7 L286.3 626.1 L308.3 626.2 L321.3 626.0 L327.8 625.3 L333.3 625.7 L337.8 625.5 L340.8 624.8 L342.8 623.9 L344.8 622.2 L348.3 618.0 L349.3 617.3 L349.8 617.1 L350.3 617.2 L351.3 617.9 L354.8 622.0 L356.8 623.8 L358.8 624.8 L361.8 625.5 L368.3 625.9 L380.8 626.1 L405.3 626.1 L416.8 625.8 L420.8 625.3 L422.3 624.7 L423.3 624.0 L424.3 622.8 L424.8 622.0 L427.3 616.8 L427.8 616.1 L428.3 615.9 L428.8 616.3 L429.3 617.0 L431.3 621.3 L431.8 622.2 L432.8 623.6 L434.3 624.7 L436.8 625.4 L443.8 625.9 L458.3 625.9 L468.8 625.7 L476.3 624.6 L481.8 625.2 L484.8 625.2 L486.8 624.9 L488.3 624.5 L489.3 623.9 L490.3 622.9 L491.3 621.3 L491.8 620.2 L492.8 617.5 L494.3 613.0 L494.8 611.9 L495.3 611.5 L495.8 611.7 L496.3 612.6 L496.8 614.0 L498.3 618.5 L498.8 619.9 L499.3 621.0 L500.3 622.7 L501.3 623.8 L502.8 624.6 L504.3 625.0 L506.8 625.4 L513.3 625.7 L524.8 625.8 L535.8 625.6 L541.8 625.2 L544.8 624.7 L547.3 623.9 L549.3 623.0 L553.8 620.3 L555.8 619.8 L557.8 620.2 L562.8 623.1 L565.3 624.1 L568.8 625.0 L572.8 625.4 L592.3 625.8 L652.3 625.8" fill="none" stroke="#1f8a1f" stroke-width="2.1" stroke-linejoin="round"/>
<path d="M74.8 604.2 L98.3 604.0 L100.8 603.8 L104.3 602.9 L107.8 603.7 L110.3 603.9 L127.3 603.8 L134.3 603.3 L136.3 602.9 L137.8 602.1 L138.8 601.1 L139.3 600.0 L139.8 598.2 L140.3 595.3 L140.8 591.0 L141.3 584.9 L141.8 577.4 L142.3 569.5 L142.8 563.1 L143.3 560.9 L143.8 564.1 L144.3 570.9 L144.8 578.9 L145.3 586.2 L145.8 591.9 L146.3 596.0 L146.8 598.6 L147.3 600.2 L147.8 601.2 L148.8 602.2 L150.8 603.0 L154.3 603.5 L160.8 603.8 L172.8 603.9 L190.8 603.8 L199.3 603.6 L201.8 603.3 L203.8 602.8 L205.3 602.0 L208.3 600.1 L209.3 599.8 L210.8 600.1 L213.8 602.1 L215.3 602.7 L217.3 603.2 L219.8 603.5 L228.8 603.6 L239.8 603.4 L245.8 603.0 L249.8 602.3 L251.3 601.7 L252.8 600.5 L253.8 598.9 L254.3 597.9 L254.8 596.5 L255.3 594.9 L255.8 592.9 L256.3 590.6 L256.8 588.0 L257.3 585.2 L258.8 576.1 L259.3 573.6 L259.8 571.6 L260.3 570.6 L260.8 570.5 L261.3 571.6 L261.8 573.5 L262.3 576.0 L264.3 587.9 L264.8 590.5 L265.3 592.8 L265.8 594.8 L266.3 596.5 L266.8 597.8 L267.3 598.9 L267.8 599.7 L268.8 600.9 L270.3 601.9 L272.8 602.6 L276.8 603.1 L288.3 603.5 L309.8 603.6 L322.3 603.4 L328.8 602.6 L334.3 603.0 L338.3 602.9 L341.3 602.2 L343.8 601.0 L345.8 599.3 L349.3 595.2 L350.3 594.6 L350.8 594.5 L351.3 594.6 L352.3 595.3 L355.8 599.3 L357.8 601.0 L360.3 602.3 L363.3 602.9 L370.3 603.3 L382.8 603.5 L406.3 603.4 L417.8 603.1 L421.8 602.7 L423.3 602.1 L424.3 601.5 L425.3 600.4 L425.8 599.7 L426.8 597.8 L428.3 594.6 L428.8 593.8 L429.3 593.3 L429.8 593.4 L430.3 593.9 L430.8 594.8 L432.8 599.0 L433.3 599.8 L434.3 601.1 L435.8 602.2 L437.8 602.7 L444.8 603.2 L460.3 603.3 L470.3 603.0 L477.3 601.9 L482.8 602.4 L484.8 602.4 L487.8 601.8 L489.3 601.1 L490.3 600.4 L491.3 599.3 L492.3 597.9 L495.3 592.6 L495.8 592.0 L496.3 591.6 L496.8 591.5 L497.3 591.7 L497.8 592.2 L498.8 593.8 L500.3 596.6 L501.3 598.2 L502.3 599.5 L503.3 600.6 L504.8 601.5 L506.3 602.1 L510.8 602.8 L517.8 603.0 L528.3 603.1 L537.3 602.9 L542.8 602.6 L545.8 602.1 L548.3 601.4 L550.8 600.2 L555.3 597.7 L557.3 597.3 L559.3 597.7 L564.3 600.4 L567.3 601.7 L570.3 602.4 L574.3 602.8 L593.8 603.2 L652.3 603.2" fill="none" stroke="#228a9c" stroke-width="2.1" stroke-linejoin="round"/>
<path d="M74.8 582.0 L98.8 581.8 L101.3 581.6 L104.3 580.8 L105.3 580.8 L108.3 581.5 L110.8 581.7 L127.8 581.6 L134.8 581.1 L136.8 580.6 L138.3 580.0 L139.3 579.0 L139.8 578.1 L140.3 576.6 L140.8 574.2 L141.3 570.6 L141.8 565.5 L142.3 558.8 L142.8 551.2 L143.3 543.9 L143.8 539.0 L144.3 538.6 L144.8 542.9 L145.3 550.0 L145.8 557.7 L146.3 564.5 L146.8 569.9 L147.3 573.8 L147.8 576.3 L148.3 577.9 L148.8 578.9 L149.8 579.9 L150.8 580.4 L152.3 580.9 L155.8 581.3 L162.8 581.6 L175.3 581.7 L192.3 581.6 L200.3 581.3 L202.8 581.0 L204.8 580.5 L206.3 579.8 L209.3 577.8 L210.3 577.5 L211.8 577.9 L214.8 579.8 L216.3 580.5 L218.3 581.0 L220.8 581.3 L229.3 581.4 L240.3 581.2 L246.3 580.8 L250.3 580.1 L251.8 579.5 L253.3 578.3 L254.3 576.9 L255.3 574.7 L255.8 573.3 L256.3 571.5 L256.8 569.4 L257.3 567.0 L257.8 564.4 L259.8 552.8 L260.3 550.4 L260.8 548.7 L261.3 547.9 L261.8 548.0 L262.3 549.1 L262.8 551.0 L263.3 553.5 L265.3 565.1 L265.8 567.7 L266.3 570.0 L266.8 572.0 L267.3 573.7 L267.8 575.1 L268.3 576.2 L268.8 577.1 L269.8 578.4 L271.3 579.5 L273.8 580.3 L277.8 580.8 L289.3 581.3 L310.8 581.4 L323.3 581.2 L329.8 580.4 L335.3 580.8 L339.3 580.6 L342.3 579.9 L344.8 578.7 L346.8 576.9 L350.3 573.1 L351.3 572.4 L351.8 572.3 L352.3 572.3 L353.3 572.8 L354.3 573.8 L357.3 577.2 L359.3 578.8 L361.8 580.0 L364.8 580.6 L371.8 581.1 L384.8 581.3 L408.3 581.2 L419.3 580.9 L423.3 580.4 L424.8 579.9 L425.8 579.2 L426.8 578.1 L427.3 577.4 L428.3 575.6 L429.8 572.4 L430.3 571.6 L430.8 571.1 L431.3 571.1 L431.8 571.5 L432.3 572.3 L433.8 575.5 L434.8 577.3 L435.8 578.6 L436.8 579.5 L437.8 580.0 L439.3 580.5 L444.3 580.9 L454.3 581.1 L467.3 581.0 L472.8 580.7 L478.8 579.7 L484.3 580.0 L487.3 579.8 L489.3 579.2 L491.3 578.1 L493.3 576.3 L496.8 572.3 L497.8 571.7 L498.3 571.6 L498.8 571.7 L499.8 572.2 L500.8 573.2 L503.8 576.7 L504.8 577.6 L506.3 578.7 L507.8 579.4 L509.3 579.9 L514.3 580.6 L521.3 580.8 L531.3 580.8 L539.3 580.7 L544.3 580.3 L547.3 579.8 L549.8 579.1 L552.3 578.1 L556.8 575.8 L558.3 575.3 L559.3 575.3 L561.3 575.7 L566.3 578.3 L569.3 579.4 L572.8 580.2 L576.8 580.6 L596.3 580.9 L652.3 581.0" fill="none" stroke="#228a9c" stroke-width="2.1" stroke-linejoin="round"/>
<path d="M74.8 558.2 L99.3 558.0 L101.8 557.8 L105.8 557.0 L109.3 557.7 L111.8 557.9 L127.8 557.8 L134.8 557.3 L137.3 556.8 L138.8 556.2 L139.8 555.3 L140.3 554.6 L140.8 553.4 L141.3 551.5 L141.8 548.6 L142.3 544.3 L142.8 538.7 L143.3 531.8 L143.8 524.4 L144.3 517.8 L144.8 514.0 L145.3 514.7 L145.8 519.5 L146.3 526.5 L146.8 533.9 L147.3 540.4 L147.8 545.7 L148.3 549.5 L148.8 552.1 L149.3 553.8 L149.8 554.8 L150.8 555.9 L151.8 556.5 L153.3 557.0 L156.8 557.5 L163.3 557.8 L175.8 557.9 L192.8 557.8 L201.3 557.5 L203.8 557.2 L205.8 556.7 L207.3 555.9 L210.3 554.0 L211.8 553.7 L212.8 554.0 L215.8 555.8 L217.3 556.6 L219.3 557.1 L221.8 557.4 L230.3 557.6 L241.3 557.3 L247.3 556.9 L251.3 556.1 L252.8 555.4 L254.3 554.0 L255.3 552.4 L256.3 550.0 L256.8 548.4 L257.3 546.6 L257.8 544.4 L258.8 539.4 L260.3 530.8 L260.8 528.1 L261.3 525.9 L261.8 524.3 L262.3 523.6 L262.8 523.7 L263.3 524.7 L263.8 526.5 L264.3 528.9 L264.8 531.6 L266.3 540.2 L266.8 542.8 L267.3 545.1 L267.8 547.2 L268.3 549.0 L268.8 550.5 L269.8 552.7 L270.3 553.5 L271.3 554.7 L272.8 555.7 L275.3 556.5 L279.3 557.0 L290.8 557.5 L311.8 557.6 L324.3 557.4 L331.3 556.6 L336.3 556.9 L339.8 556.8 L342.8 556.2 L345.3 555.1 L347.8 553.1 L351.3 549.3 L352.3 548.6 L353.3 548.5 L353.8 548.6 L354.8 549.2 L358.8 553.4 L360.8 554.9 L363.3 556.1 L366.3 556.8 L372.8 557.2 L385.8 557.4 L409.3 557.4 L420.8 557.1 L424.8 556.6 L426.3 556.0 L427.3 555.4 L428.3 554.4 L429.3 552.9 L431.8 547.9 L432.3 547.4 L432.8 547.2 L433.3 547.4 L433.8 548.1 L436.3 553.0 L437.3 554.4 L438.3 555.4 L439.3 556.0 L440.8 556.6 L445.8 557.1 L455.8 557.3 L468.8 557.2 L474.3 556.8 L480.8 555.8 L485.8 556.1 L488.3 556.0 L490.3 555.5 L492.3 554.6 L494.3 553.3 L498.3 549.9 L499.3 549.4 L500.3 549.3 L501.8 549.9 L506.3 553.6 L507.8 554.6 L509.3 555.3 L512.8 556.3 L517.3 556.8 L533.8 557.0 L541.3 556.8 L545.8 556.5 L548.8 556.0 L551.3 555.4 L553.8 554.4 L558.3 552.2 L560.8 551.6 L561.8 551.7 L563.3 552.1 L568.8 554.7 L571.8 555.7 L575.3 556.4 L579.3 556.8 L598.3 557.1 L652.3 557.2" fill="none" stroke="#1b8082" stroke-width="2.1" stroke-linejoin="round"/>
<path d="M74.8 533.5 L99.8 533.3 L102.8 533.0 L106.3 532.3 L110.3 533.0 L112.8 533.2 L128.8 533.1 L133.3 532.8 L136.3 532.5 L138.3 532.0 L139.8 531.2 L140.8 530.1 L141.3 529.2 L141.8 527.6 L142.3 525.3 L142.8 522.0 L143.3 517.3 L143.8 511.4 L144.8 497.4 L145.3 491.4 L145.8 488.4 L146.3 489.6 L146.8 494.4 L147.3 501.2 L147.8 508.3 L148.3 514.8 L148.8 520.0 L149.3 523.9 L149.8 526.7 L150.3 528.5 L150.8 529.7 L151.3 530.5 L151.8 531.0 L152.8 531.6 L154.8 532.3 L158.3 532.8 L165.3 533.1 L177.3 533.2 L193.8 533.1 L202.3 532.8 L204.8 532.5 L206.8 531.9 L208.3 531.2 L211.3 529.3 L212.8 528.9 L214.3 529.4 L216.8 531.0 L218.8 531.9 L220.8 532.4 L223.3 532.7 L231.8 532.8 L241.8 532.6 L247.8 532.1 L251.8 531.4 L253.3 530.7 L254.8 529.4 L255.8 528.0 L256.3 527.0 L257.3 524.5 L257.8 522.8 L258.3 520.9 L258.8 518.7 L259.8 513.6 L261.3 505.3 L261.8 502.8 L262.3 500.6 L262.8 499.1 L263.3 498.3 L263.8 498.4 L264.3 499.3 L264.8 500.9 L265.3 503.1 L265.8 505.7 L267.3 514.1 L268.3 519.0 L268.8 521.2 L269.3 523.1 L269.8 524.7 L270.8 527.2 L271.3 528.1 L272.3 529.5 L273.3 530.4 L274.3 531.0 L276.8 531.7 L280.8 532.2 L292.3 532.7 L313.3 532.8 L325.3 532.6 L332.3 531.8 L337.8 532.1 L340.8 532.0 L343.8 531.4 L346.3 530.3 L348.8 528.3 L352.3 524.8 L353.3 524.0 L354.3 523.7 L355.3 523.9 L356.3 524.5 L360.3 528.6 L362.8 530.4 L365.3 531.5 L368.3 532.1 L375.3 532.5 L388.3 532.7 L410.8 532.7 L422.3 532.4 L426.3 531.9 L427.8 531.4 L428.8 530.7 L429.8 529.8 L430.8 528.4 L433.3 523.6 L433.8 522.8 L434.3 522.4 L434.8 522.5 L435.3 522.9 L435.8 523.6 L438.3 528.4 L439.3 529.8 L440.3 530.7 L441.3 531.3 L442.8 531.8 L447.8 532.4 L457.3 532.6 L470.3 532.4 L475.8 532.1 L482.3 531.1 L487.3 531.4 L489.8 531.3 L491.8 530.8 L493.8 530.1 L495.8 529.0 L499.8 526.2 L500.8 525.7 L501.8 525.5 L502.8 525.6 L503.8 526.0 L508.8 529.4 L511.8 530.8 L515.3 531.7 L520.3 532.1 L536.8 532.3 L543.3 532.1 L547.8 531.7 L552.8 530.7 L555.3 529.8 L560.3 527.6 L562.8 527.1 L565.3 527.6 L570.8 530.0 L573.8 531.0 L577.3 531.7 L581.8 532.1 L600.8 532.4 L652.3 532.5" fill="none" stroke="#1b8082" stroke-width="2.1" stroke-linejoin="round"/>
<path d="M74.8 509.8 L99.8 509.6 L102.8 509.4 L106.8 508.6 L110.8 509.3 L113.3 509.5 L128.3 509.4 L135.8 508.9 L138.3 508.3 L139.8 507.7 L140.8 506.8 L141.3 506.1 L141.8 504.9 L142.3 503.2 L142.8 500.6 L143.3 496.9 L143.8 492.0 L144.3 485.9 L145.3 472.0 L145.8 466.6 L146.3 464.3 L146.8 466.1 L147.3 471.1 L148.3 484.9 L148.8 491.2 L149.3 496.3 L149.8 500.2 L150.3 502.9 L150.8 504.7 L151.3 505.9 L151.8 506.7 L152.3 507.2 L153.3 507.9 L155.3 508.5 L158.8 509.0 L165.3 509.3 L176.8 509.4 L193.8 509.4 L202.3 509.1 L205.3 508.8 L207.3 508.2 L208.8 507.5 L211.8 505.6 L213.3 505.1 L214.8 505.6 L217.3 507.2 L219.3 508.2 L221.3 508.7 L223.8 509.0 L232.3 509.1 L242.3 508.9 L248.3 508.4 L252.3 507.5 L253.8 506.8 L255.3 505.5 L256.3 503.9 L257.3 501.7 L257.8 500.2 L258.3 498.5 L258.8 496.5 L259.3 494.3 L259.8 491.8 L261.8 481.0 L262.3 478.5 L262.8 476.5 L263.3 475.1 L263.8 474.4 L264.3 474.5 L264.8 475.4 L265.3 477.0 L265.8 479.2 L266.3 481.7 L267.8 490.0 L268.3 492.6 L269.3 497.1 L269.8 499.0 L270.3 500.6 L270.8 502.0 L271.8 504.2 L272.3 505.0 L273.3 506.1 L274.3 506.9 L275.3 507.4 L277.8 508.1 L281.8 508.6 L293.3 509.0 L314.8 509.1 L325.8 508.9 L332.8 508.1 L338.3 508.4 L341.3 508.2 L344.3 507.6 L346.8 506.5 L349.3 504.6 L352.8 501.1 L353.8 500.3 L354.8 500.0 L355.8 500.1 L356.8 500.7 L360.8 504.7 L363.3 506.5 L365.8 507.7 L369.3 508.4 L376.3 508.8 L389.3 509.0 L411.3 509.0 L422.8 508.7 L427.3 508.1 L428.8 507.5 L429.8 506.8 L430.8 505.7 L431.8 504.2 L434.3 499.5 L434.8 498.9 L435.3 498.7 L435.8 498.8 L436.3 499.4 L439.3 504.9 L440.3 506.2 L441.3 507.1 L442.3 507.7 L443.8 508.1 L448.8 508.7 L458.3 508.8 L470.8 508.7 L476.3 508.4 L483.3 507.4 L488.3 507.7 L490.3 507.6 L492.3 507.2 L494.3 506.5 L496.3 505.5 L500.8 502.6 L501.8 502.2 L502.8 502.1 L503.8 502.2 L504.8 502.6 L509.8 505.8 L512.8 507.2 L516.3 508.0 L521.3 508.4 L537.8 508.6 L543.8 508.4 L548.3 508.1 L553.3 507.1 L555.8 506.2 L561.3 504.0 L563.8 503.5 L566.3 504.0 L571.8 506.3 L574.8 507.2 L578.3 507.9 L582.8 508.4 L601.3 508.7 L652.3 508.8" fill="none" stroke="#1b8082" stroke-width="2.1" stroke-linejoin="round"/>
<path d="M74.8 486.6 L100.3 486.4 L103.3 486.2 L107.3 485.4 L111.3 486.1 L113.8 486.3 L128.8 486.2 L136.3 485.6 L138.8 485.1 L140.3 484.4 L141.3 483.6 L141.8 482.9 L142.3 481.8 L142.8 480.2 L143.3 477.9 L143.8 474.6 L144.3 470.1 L144.8 464.5 L145.3 457.9 L145.8 451.1 L146.3 445.0 L146.8 441.2 L147.3 440.8 L147.8 444.2 L148.3 450.0 L149.3 463.4 L149.8 469.2 L150.3 473.9 L150.8 477.4 L151.3 479.9 L151.8 481.6 L152.3 482.7 L152.8 483.5 L153.8 484.3 L156.3 485.3 L159.8 485.8 L166.3 486.1 L177.8 486.2 L194.8 486.2 L203.3 485.9 L205.8 485.6 L207.8 485.1 L209.8 484.1 L212.8 482.2 L214.3 481.9 L215.8 482.4 L218.3 484.0 L220.3 484.9 L222.3 485.5 L224.8 485.7 L232.8 485.9 L242.8 485.6 L248.8 485.1 L252.8 484.3 L254.3 483.6 L255.8 482.2 L256.8 480.7 L257.3 479.7 L258.3 477.2 L259.3 473.7 L260.3 469.3 L260.8 466.8 L262.3 458.7 L262.8 456.2 L263.3 454.0 L263.8 452.2 L264.3 451.1 L264.8 450.7 L265.3 451.0 L265.8 452.1 L266.3 453.9 L266.8 456.1 L267.3 458.6 L268.8 466.6 L269.3 469.1 L270.3 473.6 L271.3 477.1 L271.8 478.5 L272.8 480.7 L273.3 481.5 L274.3 482.7 L275.3 483.5 L276.3 484.0 L278.8 484.8 L282.8 485.3 L294.3 485.8 L315.3 485.9 L326.8 485.7 L334.3 484.9 L338.8 485.1 L341.8 485.0 L344.8 484.4 L347.8 483.1 L349.8 481.6 L353.8 477.8 L354.8 477.1 L355.8 476.8 L356.8 476.9 L357.8 477.4 L362.3 481.6 L364.8 483.4 L367.3 484.4 L370.8 485.1 L377.8 485.6 L390.8 485.8 L412.3 485.8 L423.8 485.5 L428.3 484.9 L429.8 484.4 L430.8 483.8 L431.8 482.9 L432.8 481.6 L435.8 476.1 L436.3 475.6 L436.8 475.4 L437.3 475.6 L437.8 476.2 L440.8 481.7 L441.8 482.9 L442.8 483.8 L443.8 484.4 L445.3 484.9 L450.3 485.4 L459.8 485.6 L472.3 485.5 L477.8 485.2 L484.3 484.2 L489.8 484.4 L491.8 484.3 L493.8 484.0 L495.8 483.3 L497.8 482.3 L502.3 479.7 L504.3 479.2 L506.3 479.7 L511.3 482.7 L514.3 484.0 L518.3 484.8 L523.3 485.2 L538.8 485.3 L549.3 484.9 L554.8 483.8 L562.3 481.1 L563.8 480.7 L565.3 480.5 L567.8 480.9 L573.8 483.2 L576.8 484.1 L580.3 484.7 L584.8 485.2 L603.3 485.5 L652.3 485.6" fill="none" stroke="#1b8082" stroke-width="2.1" stroke-linejoin="round"/>
<path d="M74.8 462.8 L100.8 462.6 L103.8 462.4 L107.8 461.7 L114.3 462.5 L128.8 462.4 L136.8 461.8 L139.3 461.2 L140.8 460.6 L141.8 459.7 L142.3 459.0 L142.8 458.0 L143.3 456.5 L143.8 454.3 L144.3 451.2 L144.8 447.0 L145.3 441.8 L145.8 435.6 L146.3 428.9 L146.8 422.6 L147.3 417.9 L147.8 416.1 L148.3 417.9 L148.8 422.6 L149.3 428.9 L149.8 435.6 L150.3 441.8 L150.8 447.0 L151.3 451.2 L151.8 454.3 L152.3 456.5 L152.8 458.0 L153.3 459.0 L153.8 459.7 L154.8 460.5 L157.3 461.4 L160.8 462.0 L167.3 462.3 L178.3 462.4 L194.8 462.3 L203.8 462.1 L206.8 461.7 L208.8 461.2 L210.8 460.2 L213.3 458.5 L214.8 458.0 L216.3 458.3 L219.3 460.2 L221.3 461.1 L223.3 461.6 L225.8 461.9 L233.3 462.0 L242.8 461.8 L248.8 461.3 L252.8 460.6 L254.3 459.9 L255.8 458.9 L256.8 457.7 L257.3 456.9 L258.3 454.8 L259.3 451.8 L260.3 448.1 L261.3 443.4 L263.3 433.0 L263.8 430.7 L264.3 428.8 L264.8 427.3 L265.3 426.5 L265.8 426.5 L266.3 427.1 L266.8 428.4 L267.3 430.3 L267.8 432.5 L269.8 442.9 L270.3 445.4 L271.3 449.7 L272.3 453.1 L272.8 454.5 L273.8 456.7 L274.3 457.5 L275.3 458.7 L276.3 459.6 L277.3 460.1 L279.8 460.9 L283.8 461.4 L295.8 462.0 L316.8 462.1 L327.8 461.9 L334.8 461.0 L339.8 461.2 L342.8 461.1 L345.8 460.4 L348.3 459.3 L350.8 457.5 L354.8 453.9 L355.8 453.2 L356.8 452.9 L357.8 453.1 L358.8 453.6 L363.8 458.0 L366.3 459.7 L368.8 460.7 L372.3 461.3 L379.3 461.8 L392.3 462.0 L413.3 462.0 L424.8 461.7 L429.3 461.1 L430.8 460.7 L431.8 460.1 L432.8 459.3 L433.8 458.1 L434.8 456.5 L436.8 452.7 L437.3 452.0 L437.8 451.6 L438.3 451.6 L438.8 451.9 L439.3 452.6 L441.3 456.3 L442.3 457.9 L443.3 459.2 L444.3 460.0 L445.8 460.8 L447.3 461.2 L452.3 461.6 L461.8 461.8 L473.8 461.7 L478.8 461.4 L485.8 460.4 L490.8 460.6 L493.3 460.5 L495.3 460.1 L497.3 459.5 L499.3 458.5 L503.3 456.2 L504.8 455.7 L505.8 455.6 L507.8 456.1 L512.8 458.9 L515.8 460.2 L519.8 461.0 L524.8 461.4 L539.8 461.5 L550.3 461.1 L555.8 460.1 L563.8 457.4 L566.8 456.9 L569.8 457.4 L575.3 459.4 L578.8 460.4 L582.3 461.0 L586.8 461.4 L604.8 461.7 L652.3 461.8" fill="none" stroke="#1b8082" stroke-width="2.1" stroke-linejoin="round"/>
<text x="598.7" y="793.8" font-size="13.6" textLength="37.8" lengthAdjust="spacingAndGlyphs" fill="#1a1a1a">0 GPa</text>
<text x="594.4" y="773.1" font-size="13.6" textLength="50.6" lengthAdjust="spacingAndGlyphs" fill="#1a1a1a">2.3 GPa</text>
<text x="594.4" y="753.0" font-size="13.6" textLength="50.6" lengthAdjust="spacingAndGlyphs" fill="#1a1a1a">3.2 GPa</text>
<text x="594.4" y="732.3" font-size="13.6" textLength="50.6" lengthAdjust="spacingAndGlyphs" fill="#1a1a1a">4.9 GPa</text>
<text x="591.9" y="710.3" font-size="13.6" textLength="50.6" lengthAdjust="spacingAndGlyphs" fill="#2b7d2b">7.2 GPa</text>
<text x="591.9" y="687.4" font-size="13.6" textLength="50.6" lengthAdjust="spacingAndGlyphs" fill="#2b7d2b">9.2 GPa</text>
<text x="586.5" y="665.1" font-size="13.6" textLength="59.5" lengthAdjust="spacingAndGlyphs" fill="#2b7d2b">11.1 GPa</text>
<text x="586.5" y="644.4" font-size="13.6" textLength="59.5" lengthAdjust="spacingAndGlyphs" fill="#2b7d2b">13.8 GPa</text>
<text x="586.5" y="623.3" font-size="13.6" textLength="59.5" lengthAdjust="spacingAndGlyphs" fill="#2b7d2b">16.9 GPa</text>
<text x="586.5" y="600.7" font-size="13.6" textLength="59.5" lengthAdjust="spacingAndGlyphs" fill="#3b89a3">19.6 GPa</text>
<text x="586.5" y="578.5" font-size="13.6" textLength="59.5" lengthAdjust="spacingAndGlyphs" fill="#3b89a3">23.1 GPa</text>
<text x="586.5" y="554.7" font-size="13.6" textLength="59.5" lengthAdjust="spacingAndGlyphs" fill="#3b89a3">27.0 GPa</text>
<text x="586.5" y="530.0" font-size="13.6" textLength="59.5" lengthAdjust="spacingAndGlyphs" fill="#3b89a3">31.3 GPa</text>
<text x="586.5" y="506.3" font-size="13.6" textLength="59.5" lengthAdjust="spacingAndGlyphs" fill="#3b89a3">33.3 GPa</text>
<text x="586.5" y="483.1" font-size="13.6" textLength="59.5" lengthAdjust="spacingAndGlyphs" fill="#3b89a3">37.0 GPa</text>
<text x="586.5" y="459.3" font-size="13.6" textLength="59.5" lengthAdjust="spacingAndGlyphs" fill="#3b89a3">40.6 GPa</text>
<text class="sb" transform="translate(112.8,439.0) rotate(-90)" text-anchor="middle" font-size="14.8" fill="#111">111</text>
<text class="sb" transform="translate(154.0,396.8) rotate(-90)" text-anchor="middle" font-size="14.8" fill="#111">200</text>
<text class="sb" transform="translate(274.6,399.7) rotate(-90)" text-anchor="middle" font-size="14.8" fill="#111">220</text>
<text class="sb" transform="translate(339.5,438.3) rotate(-90)" text-anchor="middle" font-size="14.8" fill="#111">311</text>
<text class="sb" transform="translate(365.8,433.5) rotate(-90)" text-anchor="middle" font-size="14.8" fill="#111">222</text>
<text class="sb" transform="translate(443.3,433.5) rotate(-90)" text-anchor="middle" font-size="14.8" fill="#111">400</text>
<text class="sb" transform="translate(489.8,438.8) rotate(-90)" text-anchor="middle" font-size="14.8" fill="#111">331</text>
<text class="sb" transform="translate(514.7,437.9) rotate(-90)" text-anchor="middle" font-size="14.8" fill="#111">420</text>
<text class="sb" transform="translate(571.7,437.9) rotate(-90)" text-anchor="middle" font-size="14.8" fill="#111">422</text>
<text class="sb" x="216.6" y="436" text-anchor="middle" font-size="16.5" fill="#111">Ir</text>
<polygon points="216.40,441.30 217.46,446.24 222.40,447.30 217.46,448.36 216.40,453.30 215.34,448.36 210.40,447.30 215.34,446.24" fill="#34457a"/>
<path d="M74.8 363.8 H652.5 V818.5 M74.8 807.5 H652.5 M74.8 363.0 V808.3" fill="none" stroke="#111" stroke-width="1.7"/>
<path d="M110.9 807.5 v-4.5 M147.0 807.5 v-8 M183.1 807.5 v-4.5 M219.2 807.5 v-8 M255.3 807.5 v-4.5 M291.4 807.5 v-8 M327.5 807.5 v-4.5 M363.7 807.5 v-8 M399.8 807.5 v-4.5 M435.9 807.5 v-8 M472.0 807.5 v-4.5 M508.1 807.5 v-8 M544.2 807.5 v-4.5 M580.3 807.5 v-8 M616.4 807.5 v-4.5" stroke="#111" stroke-width="1.5" fill="none"/>
<text class="sb" x="74.8" y="832" text-anchor="middle" font-size="16.3" fill="#111">6</text>
<text class="sb" x="147.0" y="832" text-anchor="middle" font-size="16.3" fill="#111">8</text>
<text class="sb" x="219.2" y="832" text-anchor="middle" font-size="16.3" fill="#111">10</text>
<text class="sb" x="291.4" y="832" text-anchor="middle" font-size="16.3" fill="#111">12</text>
<text class="sb" x="363.7" y="832" text-anchor="middle" font-size="16.3" fill="#111">14</text>
<text class="sb" x="435.9" y="832" text-anchor="middle" font-size="16.3" fill="#111">16</text>
<text class="sb" x="508.1" y="832" text-anchor="middle" font-size="16.3" fill="#111">18</text>
<text class="sb" x="580.3" y="832" text-anchor="middle" font-size="16.3" fill="#111">20</text>
<text class="sb" x="652.5" y="832" text-anchor="middle" font-size="16.3" fill="#111">22</text>
</g>
<g id="pc">
<text class="ser" x="13.3" y="860.4" font-size="36" fill="#000">(c)</text>
<text class="ser" x="383" y="1413" text-anchor="middle" font-size="24" fill="#111">Pressure (GPa)</text>
<text class="ser" transform="translate(29.7,1139.8) rotate(-90)" text-anchor="middle" font-size="24.6" fill="#111">V / V<tspan font-size="15.5" dy="6">0</tspan></text>
<text class="ser" x="84" y="895.7" text-anchor="end" font-size="19.3" fill="#111">1.00</text>
<text class="ser" x="84" y="978.9" text-anchor="end" font-size="19.3" fill="#111">0.98</text>
<text class="ser" x="84" y="1062.2" text-anchor="end" font-size="19.3" fill="#111">0.96</text>
<text class="ser" x="84" y="1145.4" text-anchor="end" font-size="19.3" fill="#111">0.94</text>
<text class="ser" x="84" y="1228.7" text-anchor="end" font-size="19.3" fill="#111">0.92</text>
<text class="ser" x="84" y="1311.9" text-anchor="end" font-size="19.3" fill="#111">0.90</text>
<text class="ser" x="94.5" y="1373.2" text-anchor="middle" font-size="19.3" fill="#111">0</text>
<text class="ser" x="158.7" y="1373.2" text-anchor="middle" font-size="19.3" fill="#111">5</text>
<text class="ser" x="223.0" y="1373.2" text-anchor="middle" font-size="19.3" fill="#111">10</text>
<text class="ser" x="287.2" y="1373.2" text-anchor="middle" font-size="19.3" fill="#111">15</text>
<text class="ser" x="351.5" y="1373.2" text-anchor="middle" font-size="19.3" fill="#111">20</text>
<text class="ser" x="415.7" y="1373.2" text-anchor="middle" font-size="19.3" fill="#111">25</text>
<text class="ser" x="480.0" y="1373.2" text-anchor="middle" font-size="19.3" fill="#111">30</text>
<text class="ser" x="544.2" y="1373.2" text-anchor="middle" font-size="19.3" fill="#111">35</text>
<text class="ser" x="608.5" y="1373.2" text-anchor="middle" font-size="19.3" fill="#111">40</text>
<text class="ser" x="672.7" y="1373.2" text-anchor="middle" font-size="19.3" fill="#111">45</text>
<circle cx="104.6" cy="898.1" r="6" fill="#0a0a0a"/>
<circle cx="123.6" cy="917.4" r="6" fill="#0a0a0a"/>
<circle cx="129.4" cy="921.8" r="6" fill="#0a0a0a"/>
<circle cx="135.3" cy="926.1" r="6" fill="#0a0a0a"/>
<circle cx="149.9" cy="942.8" r="6" fill="#0a0a0a"/>
<circle cx="156.6" cy="955.3" r="6" fill="#0a0a0a"/>
<circle cx="173.2" cy="979.3" r="6" fill="#0a0a0a"/>
<circle cx="186.4" cy="982.2" r="6" fill="#0a0a0a"/>
<circle cx="198.6" cy="996.8" r="6" fill="#0a0a0a"/>
<circle cx="211.8" cy="1008.5" r="6" fill="#0a0a0a"/>
<circle cx="222.8" cy="1014.9" r="6" fill="#0a0a0a"/>
<circle cx="236.0" cy="1030.4" r="6" fill="#0a0a0a"/>
<circle cx="252.6" cy="1043.5" r="6" fill="#0a0a0a"/>
<circle cx="271.6" cy="1053.0" r="6" fill="#0a0a0a"/>
<circle cx="286.2" cy="1068.8" r="6" fill="#0a0a0a"/>
<circle cx="310.9" cy="1083.2" r="6" fill="#0a0a0a"/>
<circle cx="327.8" cy="1092.0" r="6" fill="#0a0a0a"/>
<circle cx="345.9" cy="1106.6" r="6" fill="#0a0a0a"/>
<circle cx="369.3" cy="1118.8" r="6" fill="#0a0a0a"/>
<circle cx="391.2" cy="1134.9" r="6" fill="#0a0a0a"/>
<circle cx="416.7" cy="1149.0" r="6" fill="#0a0a0a"/>
<circle cx="441.4" cy="1169.0" r="6" fill="#0a0a0a"/>
<circle cx="466.2" cy="1181.8" r="6" fill="#0a0a0a"/>
<circle cx="496.3" cy="1211.4" r="6" fill="#0a0a0a"/>
<circle cx="519.2" cy="1220.4" r="6" fill="#0a0a0a"/>
<circle cx="578.2" cy="1258.8" r="6" fill="#0a0a0a"/>
<circle cx="615.6" cy="1278.8" r="6" fill="#0a0a0a"/>
<path d="M94.5 890.1 L103.5 898.6 L112.5 906.9 L121.5 915.2 L130.5 923.4 L139.5 931.4 L148.5 939.4 L157.5 947.3 L166.5 955.1 L175.4 962.8 L184.4 970.4 L193.4 978.0 L202.4 985.5 L211.4 992.8 L220.4 1000.1 L229.4 1007.4 L238.4 1014.5 L247.4 1021.6 L256.4 1028.6 L265.4 1035.6 L274.4 1042.4 L283.4 1049.2 L292.4 1056.0 L301.4 1062.7 L310.4 1069.3 L319.4 1075.8 L328.3 1082.3 L337.3 1088.7 L346.3 1095.1 L355.3 1101.4 L364.3 1107.6 L373.3 1113.8 L382.3 1120.0 L391.3 1126.1 L400.3 1132.1 L409.3 1138.1 L418.3 1144.0 L427.3 1149.9 L436.3 1155.7 L445.3 1161.5 L454.3 1167.2 L463.3 1172.9 L472.3 1178.5 L481.3 1184.1 L490.2 1189.6 L499.2 1195.1 L508.2 1200.6 L517.2 1206.0 L526.2 1211.4 L535.2 1216.7 L544.2 1222.0 L553.2 1227.3 L562.2 1232.5 L571.2 1237.6 L580.2 1242.8 L589.2 1247.8 L598.2 1252.9 L607.2 1257.9 L616.2 1262.9 L625.2 1267.8 L634.2 1272.7" fill="none" stroke="#3a9ea2" stroke-width="3.9" stroke-dasharray="7.4 10.6" stroke-linecap="round" opacity="0.95"/>
<path d="M94.5 890.1 L103.5 899.1 L112.5 908.1 L121.5 916.9 L130.5 925.6 L139.5 934.2 L148.5 942.7 L157.5 951.1 L166.5 959.4 L175.4 967.5 L184.4 975.6 L193.4 983.6 L202.4 991.6 L211.4 999.4 L220.4 1007.1 L229.4 1014.8 L238.4 1022.3 L247.4 1029.8 L256.4 1037.2 L265.4 1044.5 L274.4 1051.8 L283.4 1058.9 L292.4 1066.0 L301.4 1073.1 L310.4 1080.0 L319.4 1086.9 L328.3 1093.7 L337.3 1100.5 L346.3 1107.2 L355.3 1113.8 L364.3 1120.3 L373.3 1126.8 L382.3 1133.3 L391.3 1139.7 L400.3 1146.0 L409.3 1152.2 L418.3 1158.4 L427.3 1164.6 L436.3 1170.7 L445.3 1176.7 L454.3 1182.7 L463.3 1188.6 L472.3 1194.5 L481.3 1200.4 L490.2 1206.2 L499.2 1211.9 L508.2 1217.6 L517.2 1223.2 L526.2 1228.8 L535.2 1234.4 L544.2 1239.9 L553.2 1245.3 L562.2 1250.8 L571.2 1256.1 L580.2 1261.5 L589.2 1266.8 L598.2 1272.0 L607.2 1277.2 L616.2 1282.4 L625.2 1287.5 L634.2 1292.6" fill="none" stroke="#35a03c" stroke-width="3.6" stroke-dasharray="13 9.5 0.5 9.5" stroke-linecap="round" opacity="0.92"/>
<path d="M94.5 890.1 L103.5 899.5 L112.5 908.8 L121.5 918.0 L130.5 927.0 L139.5 935.8 L148.5 944.5 L157.5 953.1 L166.5 961.5 L175.4 969.9 L184.4 978.1 L193.4 986.2 L202.4 994.2 L211.4 1002.0 L220.4 1009.8 L229.4 1017.4 L238.4 1025.0 L247.4 1032.5 L256.4 1039.8 L265.4 1047.1 L274.4 1054.3 L283.4 1061.4 L292.4 1068.4 L301.4 1075.3 L310.4 1082.1 L319.4 1088.9 L328.3 1095.5 L337.3 1102.1 L346.3 1108.7 L355.3 1115.1 L364.3 1121.5 L373.3 1127.8 L382.3 1134.0 L391.3 1140.2 L400.3 1146.3 L409.3 1152.4 L418.3 1158.4 L427.3 1164.3 L436.3 1170.1 L445.3 1175.9 L454.3 1181.7 L463.3 1187.4 L472.3 1193.0 L481.3 1198.6 L490.2 1204.1 L499.2 1209.6 L508.2 1215.0 L517.2 1220.4 L526.2 1225.7 L535.2 1231.0 L544.2 1236.2 L553.2 1241.4 L562.2 1246.5 L571.2 1251.6 L580.2 1256.7 L589.2 1261.7 L598.2 1266.6 L607.2 1271.5 L616.2 1276.4 L625.2 1281.2 L634.2 1286.0" fill="none" stroke="#f2322c" stroke-width="4.3" stroke-linecap="round" opacity="0.82"/>
<text class="sb" transform="translate(257.5,997.2) rotate(34.80) scale(0.900,1)" font-size="25.0" font-style="italic" fill="#3f9fc4" textLength="346.7" lengthAdjust="spacing" xml:space="preserve">LDA, B<tspan font-size="19" dy="2.5">0</tspan><tspan dy="-2.5"> </tspan>= 342 GPa, B′ = 5.0</text>
<text class="sb" transform="translate(192.8,1059.9) rotate(36.50) scale(0.900,1)" font-size="25.0" font-style="italic" fill="#168a16" textLength="351.1" lengthAdjust="spacing" xml:space="preserve">GGA, B<tspan font-size="19" dy="2.5">0</tspan><tspan dy="-2.5"> </tspan>= 320 GPa, B′ = 5.0</text>
<text class="sb" transform="translate(148.1,1078.0) rotate(37.60) scale(0.900,1)" font-size="25.0" font-style="italic" fill="#f0564a" textLength="431.1" lengthAdjust="spacing" xml:space="preserve">Exp., B<tspan font-size="19" dy="2.5">0</tspan><tspan dy="-2.5"> </tspan>= 306(6) GPa, B′ = 6.4(5)</text>
<path d="M124.7 1236.3 H178.5" stroke="#ee5055" stroke-width="4" stroke-linecap="round" fill="none"/>
<path d="M127.3 1267.4 H140.4 M151 1267.4 H151.8 M161.9 1267.4 H174.8" stroke="#148a14" stroke-width="4" stroke-linecap="round" fill="none"/>
<path d="M127.3 1298 H134.3 M147 1298 H153.5 M166.7 1298 H173.2" stroke="#168888" stroke-width="4" stroke-linecap="round" fill="none"/>
<text class="ser" x="186.4" y="1244.6" font-size="23.6" fill="#111">Exp.</text>
<text class="ser" x="187.8" y="1275.2" font-size="23.6" fill="#111">GGA</text>
<text class="ser" x="188" y="1305.9" font-size="23.6" fill="#111">LDA</text>
<rect x="94.5" y="890.1" width="578.2" height="457.5" fill="none" stroke="#111" stroke-width="1.8"/>
<path d="M126.6 1347.6 v-4.8 M158.7 1347.6 v-9.3 M190.9 1347.6 v-4.8 M223.0 1347.6 v-9.3 M255.1 1347.6 v-4.8 M287.2 1347.6 v-9.3 M319.4 1347.6 v-4.8 M351.5 1347.6 v-9.3 M383.6 1347.6 v-4.8 M415.7 1347.6 v-9.3 M447.8 1347.6 v-4.8 M480.0 1347.6 v-9.3 M512.1 1347.6 v-4.8 M544.2 1347.6 v-9.3 M576.3 1347.6 v-4.8 M608.5 1347.6 v-9.3 M640.6 1347.6 v-4.8 M94.5 1306.3 h9 M94.5 1264.7 h5 M94.5 1223.1 h9 M94.5 1181.4 h5 M94.5 1139.8 h9 M94.5 1098.2 h5 M94.5 1056.6 h9 M94.5 1015.0 h5 M94.5 973.3 h9 M94.5 931.7 h5" stroke="#111" stroke-width="1.6" fill="none"/>
</g>
</svg>
</body></html>
